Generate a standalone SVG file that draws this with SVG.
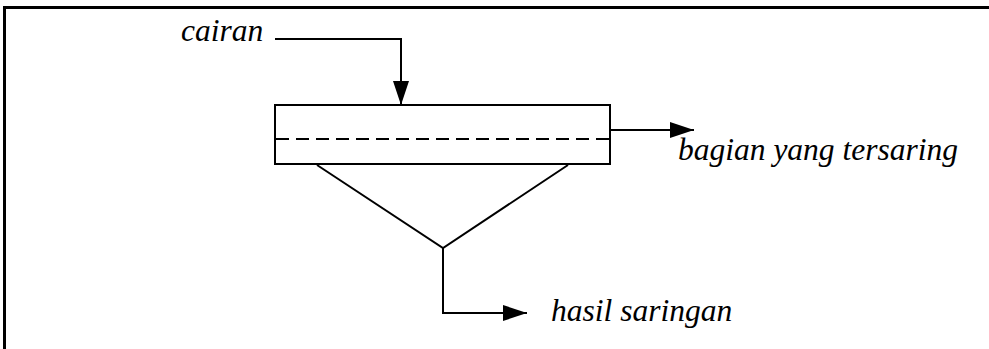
<svg xmlns="http://www.w3.org/2000/svg" width="989" height="349" viewBox="0 0 989 349">
<style>
.l{fill:none;stroke:#000;stroke-width:2}
.t{font-family:'Liberation Serif','Times New Roman',serif;font-style:italic;font-size:31.5px;fill:#000}
</style>
<defs>
<marker id="ah" markerWidth="24" markerHeight="16" refX="24" refY="8" orient="auto" markerUnits="userSpaceOnUse">
<path d="M0,0 L24,8 L0,16 Z" fill="#000"/>
</marker>
</defs>
<rect width="989" height="349" fill="#fff"/>
<path d="M4.5,349 V7.5 H989" fill="none" stroke="#000" stroke-width="3"/>
<g id="filter">
<rect x="275" y="105" width="335" height="59" class="l"/>
<line x1="276" y1="139" x2="609" y2="139" class="l" stroke-dasharray="13,7"/>
<path d="M317,165 L443,248 L568,165" class="l"/>
</g>
<g id="connectors">
<path d="M275,39 H401 V105" class="l" marker-end="url(#ah)"/>
<path d="M610,130 H694" class="l" marker-end="url(#ah)"/>
<path d="M443,248 V313 H527" class="l" marker-end="url(#ah)"/>
</g>
<g id="label-cairan"><text x="181" y="41" class="t">cairan</text></g>
<g id="label-tersaring"><text x="678" y="160" class="t">bagian yang tersaring</text></g>
<g id="label-hasil"><text x="551" y="321" class="t">hasil saringan</text></g>
</svg>
